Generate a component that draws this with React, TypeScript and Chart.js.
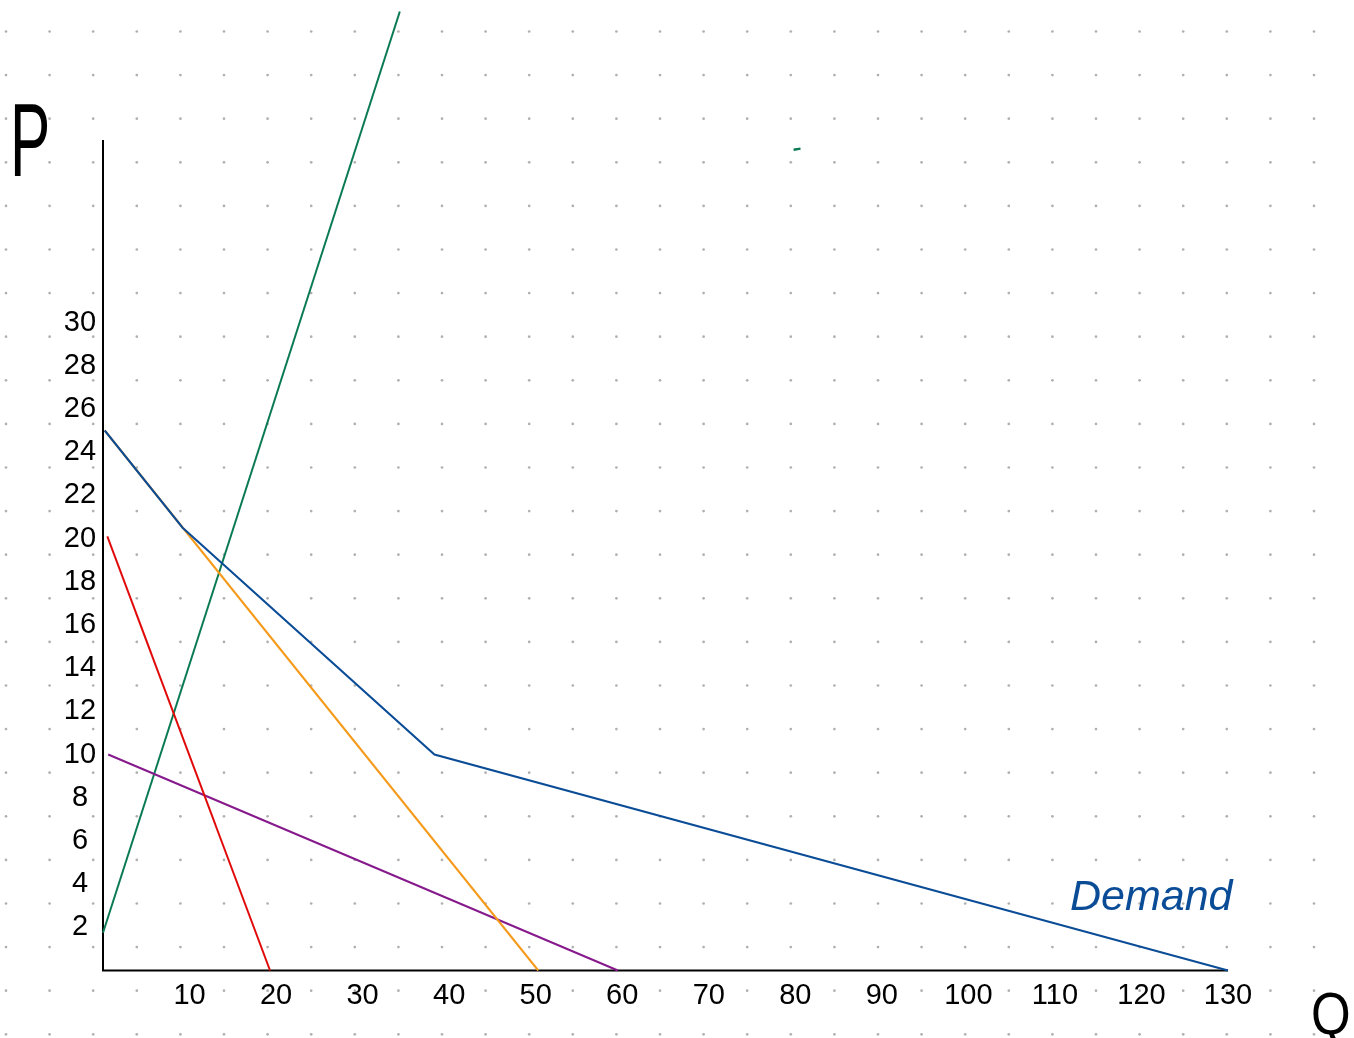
import React, { useEffect, useRef } from "react";
import { Chart, registerables } from "chart.js";

Chart.register(...registerables);

// ---- data ----
const demandQ = [0.2, 9.2, 38.3, 130];
const demandP = [25, 20.5, 10, 0];
const orangeQ = [0.2, 50.3];
const orangeP = [25, 0];
const redQ = [0.5, 19.3];
const redP = [20.1, 0];
const purpleQ = [0.6, 59.5];
const purpleP = [10, 0];
const greenQ = [0, 34.3];
const greenP = [1.75, 44.4];
const markQ = [79.8, 80.6];
const markP = [38, 38.05];

const xTicks = [10, 20, 30, 40, 50, 60, 70, 80, 90, 100, 110, 120, 130];
const yTicks = [2, 4, 6, 8, 10, 12, 14, 16, 18, 20, 22, 24, 26, 28, 30];
const yAxisTop = 38.45;

const zip = (xs: number[], ys: number[]) => xs.map((x, i) => ({ x, y: ys[i] }));

const W = 1354;
const H = 1038;

const bgPlugin = {
  id: "paper",
  beforeDraw(chart: any) {
    const ctx = chart.ctx;
    ctx.save();
    ctx.fillStyle = "#ffffff";
    ctx.fillRect(0, 0, W, H);
    ctx.fillStyle = "#b0b0b0";
    for (let x = 6; x < W; x += 43.6) {
      for (let y = 31.5; y < H; y += 43.6) {
        ctx.beginPath();
        ctx.arc(x, y, 1.35, 0, Math.PI * 2);
        ctx.fill();
      }
    }
    ctx.restore();
  },
  beforeDatasetsDraw(chart: any) {
    const ctx = chart.ctx;
    const xs = chart.scales.x;
    const ys = chart.scales.y;
    const x0 = xs.getPixelForValue(0);
    const y0 = ys.getPixelForValue(0);
    ctx.save();
    ctx.strokeStyle = "#000000";
    ctx.lineWidth = 2;
    ctx.beginPath();
    ctx.moveTo(x0, ys.getPixelForValue(yAxisTop));
    ctx.lineTo(x0, y0);
    ctx.lineTo(xs.getPixelForValue(130), y0);
    ctx.stroke();

    ctx.fillStyle = "#000000";
    ctx.font = "29px 'Liberation Sans', sans-serif";
    ctx.textAlign = "center";
    ctx.textBaseline = "middle";
    for (const t of xTicks) {
      ctx.fillText(String(t), xs.getPixelForValue(t), y0 + 25);
    }
    for (const t of yTicks) {
      ctx.fillText(String(t), x0 - 23, ys.getPixelForValue(t));
    }

    ctx.textAlign = "left";
    ctx.textBaseline = "alphabetic";
    ctx.save();
    ctx.translate(10, 176);
    ctx.scale(0.58, 1);
    ctx.font = "104px 'Liberation Sans', sans-serif";
    ctx.fillText("P", 0, 0);
    ctx.restore();
    ctx.save();
    ctx.translate(1311, 1034);
    ctx.scale(0.85, 1);
    ctx.font = "60px 'Liberation Sans', sans-serif";
    ctx.fillText("Q", 0, 0);
    ctx.restore();
    ctx.fillStyle = "#0b4c97";
    ctx.font = "italic 43px 'Liberation Sans', sans-serif";
    ctx.fillText("Demand", 1070, 910);
    ctx.restore();
  },
};

export default function App() {
  const ref = useRef<HTMLCanvasElement | null>(null);
  useEffect(() => {
    if (!ref.current) return;
    const line = (data: any, color: string, extra: any = {}) => ({
      data,
      showLine: true,
      borderColor: color,
      backgroundColor: color,
      borderWidth: 2,
      pointRadius: 0,
      pointHoverRadius: 0,
      fill: false,
      tension: 0,
      clip: false,
      ...extra,
    });
    const chart = new Chart(ref.current, {
      type: "scatter",
      data: {
        datasets: [
          line(zip(demandQ, demandP), "#0b4c97", { label: "Demand" }),
          line(zip(orangeQ, orangeP), "#f59a1b", { label: "Orange" }),
          line(zip(redQ, redP), "#e00a0a", { label: "Red" }),
          line(zip(purpleQ, purpleP), "#86198c", { label: "Purple" }),
          line(zip(greenQ, greenP), "#0a7a52", { label: "Supply" }),
          line(zip(markQ, markP), "#0a7a52", { label: "Mark", borderWidth: 2.5 }),
        ],
      },
      options: {
        animation: false,
        responsive: false,
        maintainAspectRatio: false,
        devicePixelRatio: 1,
        events: [],
        layout: { padding: { left: 103, right: 126, top: 106.5, bottom: 67.5 } },
        plugins: { legend: { display: false }, tooltip: { enabled: false } },
        scales: {
          x: { type: "linear", min: 0, max: 130, display: false },
          y: { type: "linear", min: 0, max: 40, display: false },
        },
      },
      plugins: [bgPlugin],
    });
    return () => chart.destroy();
  }, []);
  return (
    <div style={{ position: "absolute", left: 0, top: 0, width: W, height: H, background: "#fff" }}>
      <canvas ref={ref} width={W} height={H} style={{ display: "block", width: W, height: H }} />
    </div>
  );
}
